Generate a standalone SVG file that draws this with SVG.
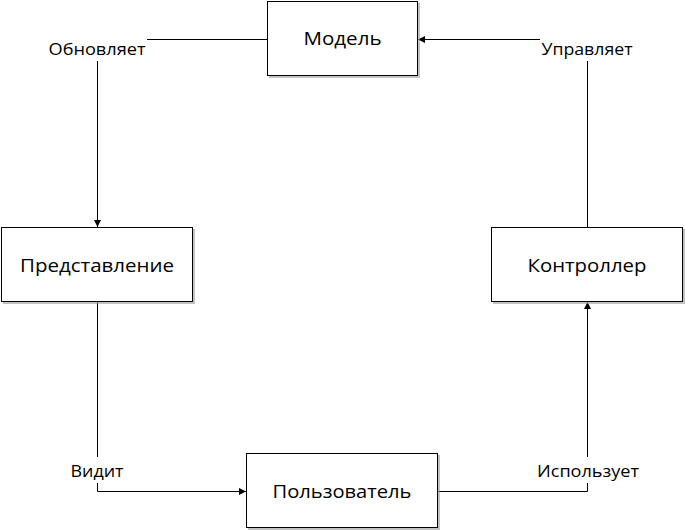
<svg xmlns="http://www.w3.org/2000/svg" width="685" height="530" viewBox="0 0 685 530">
<style>
.box{fill:#fff;stroke:#000;stroke-width:1}
.sh{fill:#999;opacity:0.6}
.nt{font-family:"Open Sans","Noto Sans","DejaVu Sans",sans-serif;font-size:18px;fill:#000;text-anchor:middle}
.lt{font-family:"Open Sans","Noto Sans","DejaVu Sans",sans-serif;font-size:16px;fill:#000;text-anchor:middle}
.c{fill:none;stroke:#000;stroke-width:1}
</style>
<defs>
<marker id="ah" viewBox="0 0 10 10" refX="10" refY="5" markerWidth="7" markerHeight="7" markerUnits="userSpaceOnUse" orient="auto">
<path d="M0,0 L10,5 L0,10 z" fill="#000"/>
</marker>
</defs>
<rect width="685" height="530" fill="#fff"/>
<g id="connectors">
<path class="c" d="M267,39.5 H147"/>
<path class="c" d="M97.5,61 V227" marker-end="url(#ah)"/>
<path class="c" d="M540,39.5 H418" marker-end="url(#ah)"/>
<path class="c" d="M587.5,227 V61"/>
<path class="c" d="M97.5,302 V457"/>
<path class="c" d="M97.5,483 V491.5 H246" marker-end="url(#ah)"/>
<path class="c" d="M438,491.5 H587.5 V483"/>
<path class="c" d="M587.5,457 V302" marker-end="url(#ah)"/>
<text class="lt" x="97" y="55" textLength="97" lengthAdjust="spacingAndGlyphs">Обновляет</text>
<text class="lt" x="587" y="55" textLength="91" lengthAdjust="spacingAndGlyphs">Управляет</text>
<text class="lt" x="97" y="477" textLength="53" lengthAdjust="spacingAndGlyphs">Видит</text>
<text class="lt" x="588" y="477" textLength="102" lengthAdjust="spacingAndGlyphs">Использует</text>
</g>
<g id="model">
<rect class="sh" x="269" y="3" width="151" height="75"/>
<rect class="box" x="267.5" y="1.5" width="150" height="74"/>
<text class="nt" x="342.5" y="45" textLength="78" lengthAdjust="spacingAndGlyphs">Модель</text>
</g>
<g id="view">
<rect class="sh" x="3" y="229" width="192" height="75"/>
<rect class="box" x="1.5" y="227.5" width="191" height="74"/>
<text class="nt" x="97" y="272" textLength="154" lengthAdjust="spacingAndGlyphs">Представление</text>
</g>
<g id="controller">
<rect class="sh" x="493" y="229" width="192" height="75"/>
<rect class="box" x="491.5" y="227.5" width="191" height="74"/>
<text class="nt" x="587" y="272" textLength="119" lengthAdjust="spacingAndGlyphs">Контроллер</text>
</g>
<g id="user">
<rect class="sh" x="248" y="455" width="192" height="75"/>
<rect class="box" x="246.5" y="453.5" width="191" height="74"/>
<text class="nt" x="342" y="498" textLength="139" lengthAdjust="spacingAndGlyphs">Пользователь</text>
</g>
</svg>
